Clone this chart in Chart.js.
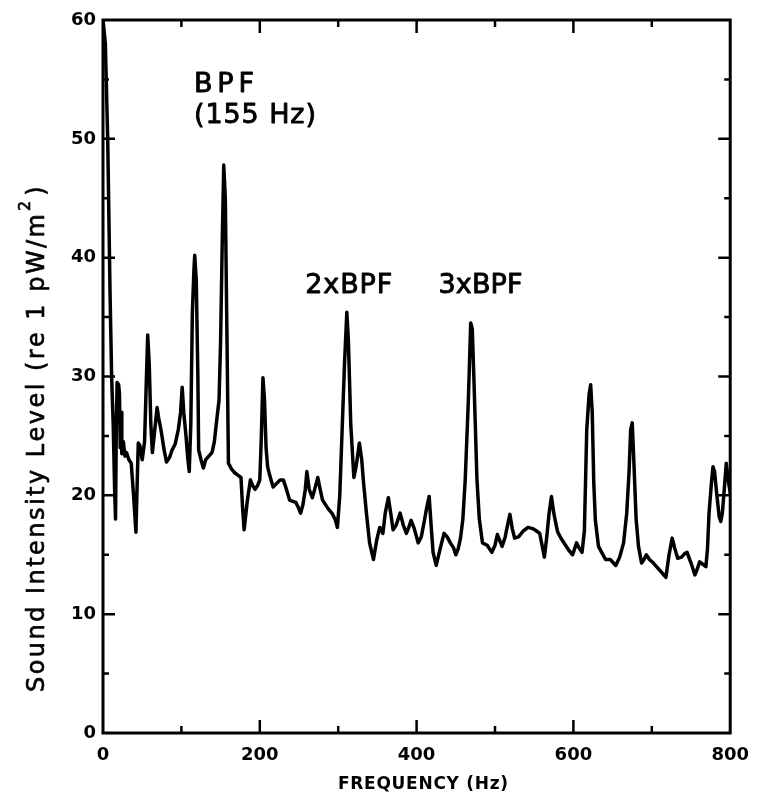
<!DOCTYPE html>
<html><head><meta charset="utf-8">
<script src="https://cdn.jsdelivr.net/npm/chart.js@4"></script>
<style>html,body{margin:0;padding:0;background:#fff}#wrap{width:761px;height:796px;position:relative}</style>
</head><body><div id="wrap"><canvas id="c"></canvas></div>
<script>
// ---- data ----
const freqHz = [0,3,6,9,11,13,15,16,17,18,20,21,22,23,24,26,28,30,33,36,39,42,44,45,47,50,53,55,57,59,61,63,66,69,71,74,78,81,85,88,92,96,99,101,103,106,108,110,112,114,116,117,119,121,122,125,128,131,135,139,142,145,148,150,152,154,156,158,160,164,168,172,176,178,180,184,188,191,194,197,200,202,204,206,208,210,213,217,220,223,226,230,234,238,242,246,249,252,255,258,260,263,267,270,274,277,280,284,288,292,296,299,302,305,308,311,313,316,320,323,327,330,332,336,340,345,349,353,357,360,364,367,370,374,379,383,387,390,393,397,402,406,410,413,416,419,421,425,430,435,439,443,447,450,453,456,459,462,466,469,471,473,477,480,484,490,496,500,503,506,509,513,516,519,522,525,530,536,542,548,553,557,560,563,566,569,572,575,578,580,585,591,595,599,602,604,607,611,614,617,620,622,624,626,628,632,636,641,647,654,659,664,668,671,673,675,677,680,683,687,690,693,697,702,706,710,714,718,722,726,729,733,738,742,745,750,755,758,761,765,769,771,773,776,778,780,783,786,788,790,793,795,797,800];
const levelDb = [60,58,50,37,30,26,20,18,26,29.5,29.3,28.5,24,27,23.5,24.5,23.3,23.6,23,22.7,20,16.9,22,24.4,24.2,23,24.5,29,33.5,31,26,23.6,25.5,27.4,26.5,25.5,23.8,22.8,23.2,23.8,24.3,25.5,27,29.1,27,24.9,23.2,22,26,35.4,39,40.2,38,30,23.8,23,22.3,23,23.3,23.6,24.5,26.3,28,33,41,47.8,45,34,22.7,22.2,21.9,21.7,21.5,19,17.1,19.5,21.3,20.8,20.5,20.8,21.3,25,29.9,28,24,22.4,21.6,20.7,20.9,21.1,21.3,21.3,20.5,19.6,19.5,19.4,19,18.5,19.2,20.5,22,20.5,19.8,20.5,21.5,20.5,19.6,19.2,18.8,18.5,18,17.3,20,25.5,31,35.4,33,26,21.5,22.5,24.4,23,21.3,18.5,16,14.6,16.2,17.3,16.8,18.5,19.8,18.5,17.1,17.5,18.5,17.5,16.8,17.3,17.9,17.2,16,16.5,17.9,19,19.9,17,15.2,14.1,15.5,16.8,16.5,16,15.6,15,15.5,16.4,18,21.3,28,34.5,34,30,21.3,18,16,15.8,15.2,15.8,16.7,16.2,15.7,16.5,17.5,18.4,17.2,16.4,16.5,17,17.3,17.2,17,16.8,15.8,14.8,16.5,18.5,19.9,18.5,17.5,16.9,16.3,15.7,15.3,15,15.6,16,15.6,15.2,17,25.5,28.5,29.3,27,21,17.9,15.7,15.2,14.6,14.6,14.1,14.8,16,18.5,22,25.5,26.1,23,18,15.7,14.3,14.6,15,14.6,14.3,14,13.7,13.4,13.1,15,16.4,15.6,14.7,14.8,15.1,15.2,14.3,13.3,13.8,14.4,14.2,14,15.5,18.5,21,22.4,22,20,18.2,17.8,18.5,21,22.7,21.5,20.2];
const xTickLabels = [0,200,400,600,800];
const yTickLabels = [0,10,20,30,40,50,60];
const xMinorTicks = [100,200,300,400,500,600,700];
const yMinorTicks = [5,10,15,20,25,30,35,40,45,50,55];
const xTitle = 'FREQUENCY (Hz)';
const yTitleMain = 'Sound Intensity Level (re 1 pW/m';
const yTitleSup = '2';
const yTitleEnd = ')';
const peakLabels = [
  {text:'BPF', f:116, v:53.9, w:60},
  {text:'(155 Hz)', f:116, v:51.3, w:122},
  {text:'2xBPF', f:258, v:37.0, w:87},
  {text:'3xBPF', f:428, v:37.0, w:84}
];

// draw text char by char with spacing so that its span equals width w
function drawSpaced(ctx, txt, x, y, w, stroke) {
  const chars = [...txt];
  let nat = 0; chars.forEach(c => nat += ctx.measureText(c).width);
  const sp = chars.length > 1 ? (w - nat) / (chars.length - 1) : 0;
  let cx = x;
  chars.forEach(c => {
    ctx.fillText(c, cx, y);
    if (stroke) ctx.strokeText(c, cx, y);
    cx += ctx.measureText(c).width + sp;
  });
  return cx - sp;
}

const framePlugin = {
  id: 'frame',
  afterDraw(chart) {
    const ctx = chart.ctx, a = chart.chartArea;
    const xs = chart.scales.x, ys = chart.scales.y;
    ctx.save();
    ctx.strokeStyle = '#000'; ctx.fillStyle = '#000';
    ctx.lineWidth = 3; ctx.lineJoin = 'miter';
    ctx.strokeRect(a.left, a.top, a.right - a.left, a.bottom - a.top);
    ctx.lineWidth = 2.5; ctx.lineCap = 'butt';
    ctx.beginPath();
    xMinorTicks.forEach(v => {
      const px = xs.getPixelForValue(v); const L = (v % 200 === 0) ? 13 : 7;
      ctx.moveTo(px, a.bottom); ctx.lineTo(px, a.bottom - L);
      ctx.moveTo(px, a.top); ctx.lineTo(px, a.top + L);
    });
    yMinorTicks.forEach(v => {
      const py = ys.getPixelForValue(v); const L = (v % 10 === 0) ? 12 : 6;
      ctx.moveTo(a.left, py); ctx.lineTo(a.left + L, py);
      ctx.moveTo(a.right, py); ctx.lineTo(a.right - L, py);
    });
    ctx.stroke();

    // peak annotations
    ctx.lineWidth = 0.9; ctx.lineJoin = 'round';
    ctx.font = '27px "DejaVu Sans"'; ctx.textBaseline = 'alphabetic'; ctx.textAlign = 'left';
    peakLabels.forEach(p => drawSpaced(ctx, p.text, xs.getPixelForValue(p.f), ys.getPixelForValue(p.v), p.w, true));

    // x title
    ctx.font = 'bold 17px "DejaVu Sans"';
    drawSpaced(ctx, xTitle, 338, 789, 170, false);

    // y title (rotated)
    ctx.save();
    ctx.translate(44, 692); ctx.rotate(-Math.PI / 2);
    ctx.lineWidth = 0.6;
    ctx.font = '24px "DejaVu Sans"';
    let end = drawSpaced(ctx, yTitleMain, 0, 0, 478, true);
    ctx.font = '16px "DejaVu Sans"';
    ctx.fillText(yTitleSup, end + 3, -14); ctx.strokeText(yTitleSup, end + 3, -14);
    const sw = ctx.measureText(yTitleSup).width;
    ctx.font = '24px "DejaVu Sans"';
    ctx.fillText(yTitleEnd, end + 3 + sw + 5, 0); ctx.strokeText(yTitleEnd, end + 3 + sw + 5, 0);
    ctx.restore();
    ctx.restore();
  }
};

const tickFont = {family: '"DejaVu Sans"', weight: 'bold', size: 18};
new Chart(document.getElementById('c'), {
  type: 'line',
  data: { datasets: [{
    data: freqHz.map((f, i) => ({x: f, y: levelDb[i]})),
    borderColor: '#000', borderWidth: 3.5, pointRadius: 0, tension: 0,
    borderJoinStyle: 'round', borderCapStyle: 'round', fill: false
  }]},
  options: {
    responsive: true, maintainAspectRatio: false, animation: false,
    layout: {padding: {left: 0, right: 23, top: 20, bottom: 0}},
    plugins: {legend: {display: false}, tooltip: {enabled: false}},
    scales: {
      x: {
        type: 'linear', min: 0, max: 800,
        afterBuildTicks: s => { s.ticks = xTickLabels.map(v => ({value: v})); },
        afterFit: s => { s.height = 63; },
        grid: {display: false, drawTicks: false}, border: {display: false},
        ticks: {font: tickFont, color: '#000', padding: 12, maxRotation: 0, autoSkip: false}
      },
      y: {
        type: 'linear', min: 0, max: 60,
        afterBuildTicks: s => { s.ticks = yTickLabels.map(v => ({value: v})); },
        afterFit: s => { s.width = 103; },
        grid: {display: false, drawTicks: false}, border: {display: false},
        ticks: {font: tickFont, color: '#000', padding: 7, autoSkip: false}
      }
    }
  },
  plugins: [framePlugin]
});
</script></body></html>
